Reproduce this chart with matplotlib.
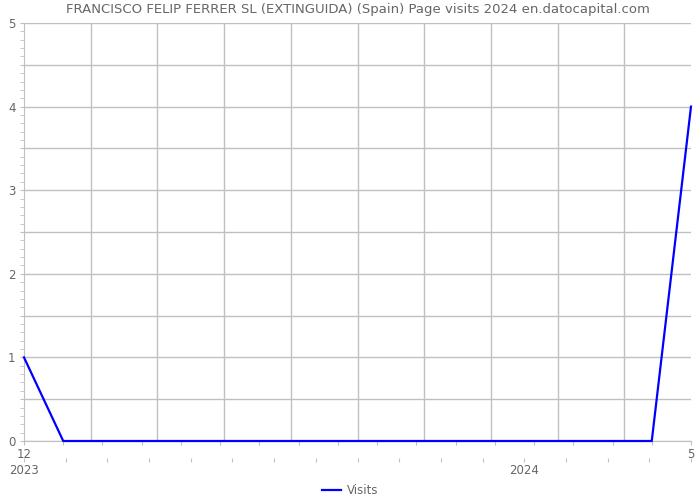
import matplotlib.pyplot as plt
import numpy as np

# data: visits per point, from 12/2023 to 5/2024
visits = [1, 0, 0, 0, 0, 0, 0, 0, 0, 0, 0, 0, 0, 0, 0, 0, 0, 4]
x = np.arange(len(visits))
first_label = "12"
last_label = "5"
years = ["2023", "2024"]

grid_col = "#c0c0c0"
txt_col = "#666666"

fig = plt.figure(figsize=(7, 5), dpi=100)
ax = fig.add_axes([24 / 700, 1 - 441 / 500, 667 / 700, 418 / 500])

ax.plot(x, visits, color="#0000ff", lw=1.6, label="Visits", zorder=3, clip_on=False)

n = len(visits) - 1
ax.set_xlim(0, n)
ax.set_ylim(0, 5)

# vertical grid lines (10 bands)
for g in np.linspace(0, n, 11)[1:-1]:
    ax.axvline(g, color=grid_col, lw=1, zorder=1)

# x ticks at every data point, labels only at the ends
ax.set_xticks(x)
ax.set_xticklabels([first_label] + [""] * (n - 1) + [last_label])
ax.tick_params(axis="x", length=3, color=grid_col, labelcolor=txt_col, labelsize=8.5, pad=2)

# y axis: grid every 0.5, labels on integers
ax.set_yticks(np.arange(0, 5.01, 0.5))
ax.set_yticklabels([str(int(v)) if v == int(v) else "" for v in np.arange(0, 5.01, 0.5)])
ax.set_yticks(np.arange(0, 5.01, 0.1), minor=True)
ax.tick_params(axis="y", which="both", length=3, color=grid_col, labelcolor=txt_col, labelsize=8.5, pad=3)
ax.yaxis.grid(True, color=grid_col, lw=1, zorder=1)

for s in ["top", "right"]:
    ax.spines[s].set_visible(False)
ax.spines["left"].set_color(grid_col)
ax.spines["bottom"].set_color(grid_col)

# second row of ticks with the years
sec = ax.secondary_xaxis(-17 / 418)
sec_ticks = np.arange(17) * n / 16
sec.set_xticks(sec_ticks)
lab = [""] * 17
lab[0] = years[0]
lab[12] = years[1]
sec.set_xticklabels(lab)
sec.tick_params(axis="x", length=3, color=grid_col, labelcolor=txt_col, labelsize=8.5, pad=1)
sec.spines["bottom"].set_visible(False)

ax.set_title("FRANCISCO FELIP FERRER SL (EXTINGUIDA) (Spain) Page visits 2024 en.datocapital.com",
             fontsize=9.5, color=txt_col, pad=7)

fig.legend(loc="lower center", bbox_to_anchor=(0.5, -0.015), frameon=False, fontsize=8.5,
           labelcolor=txt_col, handlelength=1.6, handletextpad=0.5)

fig.savefig("out.png", dpi=100)
